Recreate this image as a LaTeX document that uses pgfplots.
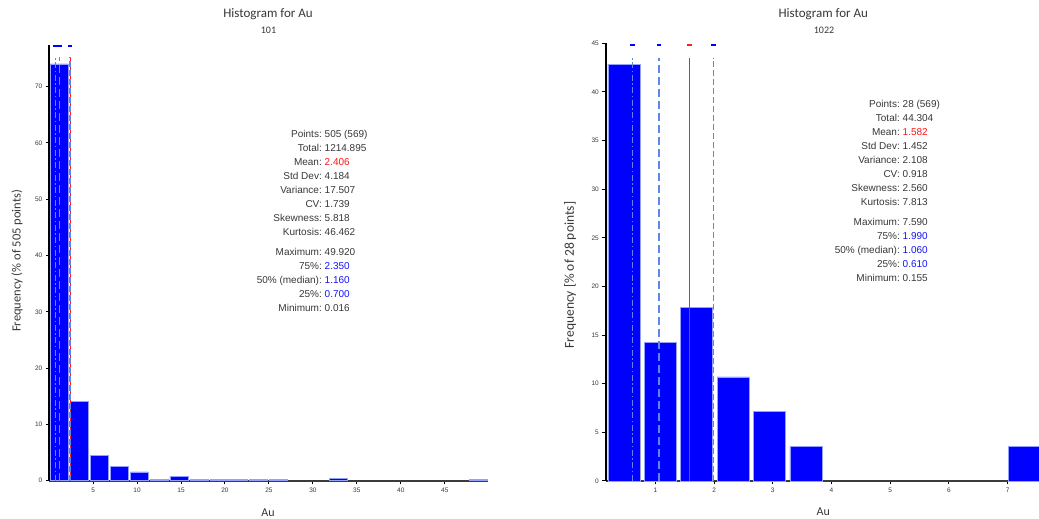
\documentclass[border=0pt]{standalone}
\usepackage{fontspec}
\setmainfont{Liberation Sans}
\newfontfamily\calibri{Carlito}
\usepackage{pgfplots}
\pgfplotsset{compat=1.18}
\definecolor{barblue}{RGB}{0,0,255}
\definecolor{baredge}{RGB}{150,160,255}
\definecolor{qblue}{RGB}{95,135,235}
\definecolor{meanred}{RGB}{255,30,30}
\definecolor{txtgray}{RGB}{55,55,55}
\definecolor{axgray}{RGB}{60,60,60}
\definecolor{valblue}{RGB}{20,20,255}
\definecolor{valred}{RGB}{255,20,20}

\pgfplotsset{
  histax/.style={
    scale only axis,
    anchor=south west,
    axis lines*=left,
    axis line style={-},
    x axis line style={draw=axgray, line width=2.2pt, -},
    y axis line style={draw=black, line width=1.8pt, -},
    tick align=outside,
    major tick length=3.5pt,
    every tick/.style={black, line width=1pt},
    tick label style={font=\fontsize{6.5}{7}\selectfont, text=txtgray},
    /pgf/number format/assume math mode=true,
    clip=false,
    ymin=0,
  },
  qline/.style={draw=qblue, line width=1.6pt},
  mline/.style={draw=meanred, line width=1.6pt},
  topmark/.style={only marks, mark=-, mark size=2.2pt, mark options={line width=1.6pt}},
}

\newcommand{\statlabels}{%
  \begin{tabular}{@{}r@{}}
  Points:\\ Total:\\ Mean:\\ Std Dev:\\ Variance:\\ CV:\\ Skewness:\\ Kurtosis:\\[6pt]
  Maximum:\\ 75\%:\\ 50\% (median):\\ 25\%:\\ Minimum:
  \end{tabular}}

\begin{document}
\begin{tikzpicture}[x=1pt,y=1pt]

% ---------------- left histogram ----------------
\begin{axis}[histax,
  at={(49.3pt,38.3pt)}, width=438.7pt, height=435.7pt,
  xmin=0.016, xmax=49.92, ymax=77.4,
  xtick={5,10,...,45}, ytick={0,10,...,70},
]
\addplot[ybar, bar width=2.05, fill=barblue, draw=baredge, line width=0.5pt] coordinates {
 (1.150,74.06) (3.418,14.06) (5.687,4.55) (7.955,2.57) (10.223,1.58) (12.492,0.2)
 (14.760,0.79) (17.029,0.2) (19.297,0.2) (21.565,0.2) (23.834,0.2) (26.102,0.2)
 (32.907,0.4) (48.786,0.2)};
\addplot[mline] coordinates {(2.406,0) (2.406,75.2)};
\addplot[qline, dash pattern=on 6pt off 2.5pt on 1.5pt off 2.5pt] coordinates {(0.70,0) (0.70,75.2)};
\addplot[qline, dash pattern=on 8pt off 4pt] coordinates {(1.16,0) (1.16,75.2)};
\addplot[qline, dash pattern=on 6pt off 3pt] coordinates {(2.35,0) (2.35,75.2)};
\addplot[topmark, blue] coordinates {(0.70,77.2) (1.16,77.2) (2.35,77.2)};
\end{axis}

% ---------------- right histogram ----------------
\begin{axis}[histax,
  at={(605.8pt,38pt)}, width=436.4pt, height=437.7pt,
  xmin=0.155, xmax=7.59, ymax=45,
  xtick={1,2,...,7}, ytick={0,5,...,45},
]
\addplot[ybar, bar width=0.545, fill=barblue, draw=baredge, line width=0.5pt] coordinates {
 (0.4648,42.86) (1.0844,14.29) (1.7040,17.86) (2.3236,10.71) (2.9431,7.14) (3.5627,3.57)
 (7.2802,3.57)};
\addplot[mline] coordinates {(1.582,0) (1.582,43.5)};
\addplot[qline, dash pattern=on 6pt off 2.5pt on 1.5pt off 2.5pt] coordinates {(0.61,0) (0.61,43.5)};
\addplot[qline, dash pattern=on 8pt off 4pt] coordinates {(1.06,0) (1.06,43.5)};
\addplot[qline, dash pattern=on 6pt off 3pt] coordinates {(1.99,0) (1.99,43.5)};
\addplot[topmark, blue] coordinates {(0.61,44.8) (1.06,44.8) (1.99,44.8)};
\addplot[topmark, meanred] coordinates {(1.582,44.8)};
\end{axis}

% ---------------- titles and labels ----------------
\begin{scope}[every node/.style={text=txtgray, inner sep=0pt}]
\node[font=\calibri\fontsize{13}{15}\selectfont] at (268,505) {Histogram for Au};
\node[font=\calibri\fontsize{10}{11}\selectfont] at (268.5,489) {101};
\node[font=\calibri\fontsize{13}{15}\selectfont] at (823.3,505) {Histogram for Au};
\node[font=\calibri\fontsize{10}{11}\selectfont] at (824,489) {1022};
\node[font=\calibri\fontsize{12}{14}\selectfont] at (268,6.5) {Au};
\node[font=\calibri\fontsize{12}{14}\selectfont] at (823.3,7.5) {Au};
\node[font=\calibri\fontsize{12.5}{14}\selectfont, rotate=90] at (17,258) {Frequency (\% of 505 points)};
\node[font=\calibri\fontsize{13.5}{15}\selectfont, rotate=90] at (570,244) {Frequency [\% of 28 points]};

% statistics, left
\node[anchor=north east, font=\fontsize{10}{14}\selectfont] at (322,391.2) {\statlabels};
\node[anchor=north west, font=\fontsize{10}{14}\selectfont] at (324.5,391.2) {%
  \begin{tabular}{@{}l@{}}
  505 (569)\\ 1214.895\\ \textcolor{valred}{2.406}\\ 4.184\\ 17.507\\ 1.739\\ 5.818\\ 46.462\\[6pt]
  49.920\\ \textcolor{valblue}{2.350}\\ \textcolor{valblue}{1.160}\\ \textcolor{valblue}{0.700}\\ 0.016
  \end{tabular}};

% statistics, right
\node[anchor=north east, font=\fontsize{10}{14}\selectfont] at (900,421.2) {\statlabels};
\node[anchor=north west, font=\fontsize{10}{14}\selectfont] at (902.5,421.2) {%
  \begin{tabular}{@{}l@{}}
  28 (569)\\ 44.304\\ \textcolor{valred}{1.582}\\ 1.452\\ 2.108\\ 0.918\\ 2.560\\ 7.813\\[6pt]
  7.590\\ \textcolor{valblue}{1.990}\\ \textcolor{valblue}{1.060}\\ \textcolor{valblue}{0.610}\\ 0.155
  \end{tabular}};
\end{scope}

\pgfresetboundingbox
\path[use as bounding box] (0,0) rectangle (1039,519);
\end{tikzpicture}
\end{document}
